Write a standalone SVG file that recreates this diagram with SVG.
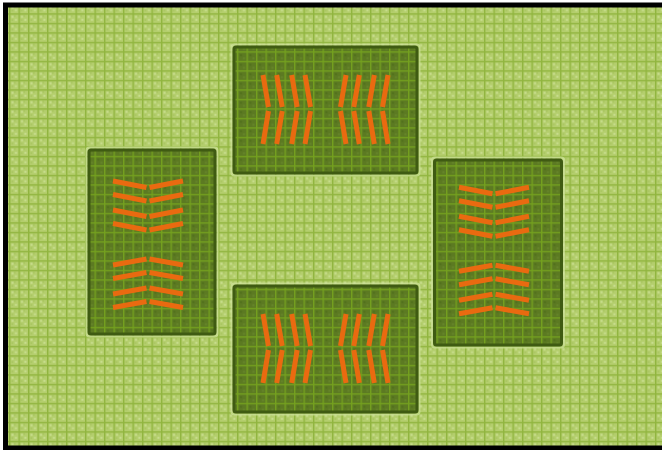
<svg xmlns="http://www.w3.org/2000/svg" width="662" height="450" viewBox="0 0 662 450">
  <defs>
    <pattern id="grid" width="9.5" height="9.5" patternUnits="userSpaceOnUse" x="9" y="13.3">
      <rect width="9.5" height="9.5" fill="#b4ce6d"/>
      <rect x="2.5" y="2.5" width="2" height="2" fill="#c8dd8e"/>
      <rect x="6" y="5.5" width="2" height="2" fill="#c8dd8e"/>
      <rect x="5" y="2" width="1.5" height="1.5" fill="#a7c45e"/>
      <rect x="2.5" y="6" width="1.5" height="1.5" fill="#a7c45e"/>
      <rect width="9.5" height="1.4" fill="#91b53f"/>
      <rect width="1.4" height="9.5" fill="#91b53f"/>
    </pattern>
    <pattern id="darkgrid" width="9.5" height="9.5" patternUnits="userSpaceOnUse" x="9" y="13.3">
      <rect width="9.5" height="9.5" fill="#5c7a22"/>
      <rect x="3" y="3" width="2" height="2" fill="#51701c"/>
      <rect x="6" y="6" width="2" height="2" fill="#66852a"/>
      <rect width="9.5" height="1.4" fill="#74a01f"/>
      <rect width="1.4" height="9.5" fill="#74a01f"/>
    </pattern>
    <style>
      .pad { fill: url(#darkgrid); stroke: #3f5b12; stroke-width: 3; }
      .halo { fill: none; stroke: #cfe39c; stroke-width: 2; opacity: 0.7; }
      .bar { stroke: #e96a10; stroke-width: 5; stroke-linecap: butt; fill: none; }
    </style>
  </defs>

  <g id="board">
    <rect x="5.5" y="5" width="700" height="443" fill="url(#grid)" stroke="#000" stroke-width="5"/>
  </g>

  <g id="pad-top">
    <rect class="halo" x="231.5" y="44.5" width="188" height="131" rx="3"/>
    <rect class="pad" x="234" y="47" width="183" height="126" rx="2"/>
    <path class="bar" d="M263,75 L268.5,107 M268.5,111 L263,144 M276.7,75 L282.2,107 M282.2,111 L276.7,144 M291.7,75 L297.2,107 M297.2,111 L291.7,144 M305,75 L310.5,107 M310.5,111 L305,144"/>
    <path class="bar" d="M346,75 L340.5,107 M340.5,111 L346,144 M359.3,75 L353.8,107 M353.8,111 L359.3,144 M374.3,75 L368.8,107 M368.8,111 L374.3,144 M388,75 L382.5,107 M382.5,111 L388,144"/>
  </g>

  <g id="pad-bottom">
    <rect class="halo" x="231.5" y="283.5" width="188" height="131" rx="3"/>
    <rect class="pad" x="234" y="286" width="183" height="126" rx="2"/>
    <g transform="translate(0,239)">
      <path class="bar" d="M263,75 L268.5,107 M268.5,111 L263,144 M276.7,75 L282.2,107 M282.2,111 L276.7,144 M291.7,75 L297.2,107 M297.2,111 L291.7,144 M305,75 L310.5,107 M310.5,111 L305,144"/>
      <path class="bar" d="M346,75 L340.5,107 M340.5,111 L346,144 M359.3,75 L353.8,107 M353.8,111 L359.3,144 M374.3,75 L368.8,107 M368.8,111 L374.3,144 M388,75 L382.5,107 M382.5,111 L388,144"/>
    </g>
  </g>

  <g id="pad-left">
    <rect class="halo" x="86.5" y="147.5" width="131" height="189" rx="3"/>
    <rect class="pad" x="89" y="150" width="126" height="184" rx="2"/>
    <path class="bar" d="M113,181 L146.5,187.5 M149.5,187.5 L183,181 M113,194.5 L146.5,201 M149.5,201 L183,194.5 M113,210 L146.5,216.5 M149.5,216.5 L183,210 M113,223.5 L146.5,230 M149.5,230 L183,223.5"/>
    <path class="bar" d="M113,265 L146.5,259 M149.5,259 L183,265 M113,278.5 L146.5,272.5 M149.5,272.5 L183,278.5 M113,294 L146.5,288 M149.5,288 L183,294 M113,307.5 L146.5,301.5 M149.5,301.5 L183,307.5"/>
  </g>

  <g id="pad-right">
    <rect class="halo" x="432" y="157.5" width="132" height="190" rx="3"/>
    <rect class="pad" x="434.5" y="160" width="127" height="185" rx="2"/>
    <g transform="translate(346,6.3)">
      <path class="bar" d="M113,181 L146.5,187.5 M149.5,187.5 L183,181 M113,194.5 L146.5,201 M149.5,201 L183,194.5 M113,210 L146.5,216.5 M149.5,216.5 L183,210 M113,223.5 L146.5,230 M149.5,230 L183,223.5"/>
      <path class="bar" d="M113,265 L146.5,259 M149.5,259 L183,265 M113,278.5 L146.5,272.5 M149.5,272.5 L183,278.5 M113,294 L146.5,288 M149.5,288 L183,294 M113,307.5 L146.5,301.5 M149.5,301.5 L183,307.5"/>
    </g>
  </g>
</svg>
